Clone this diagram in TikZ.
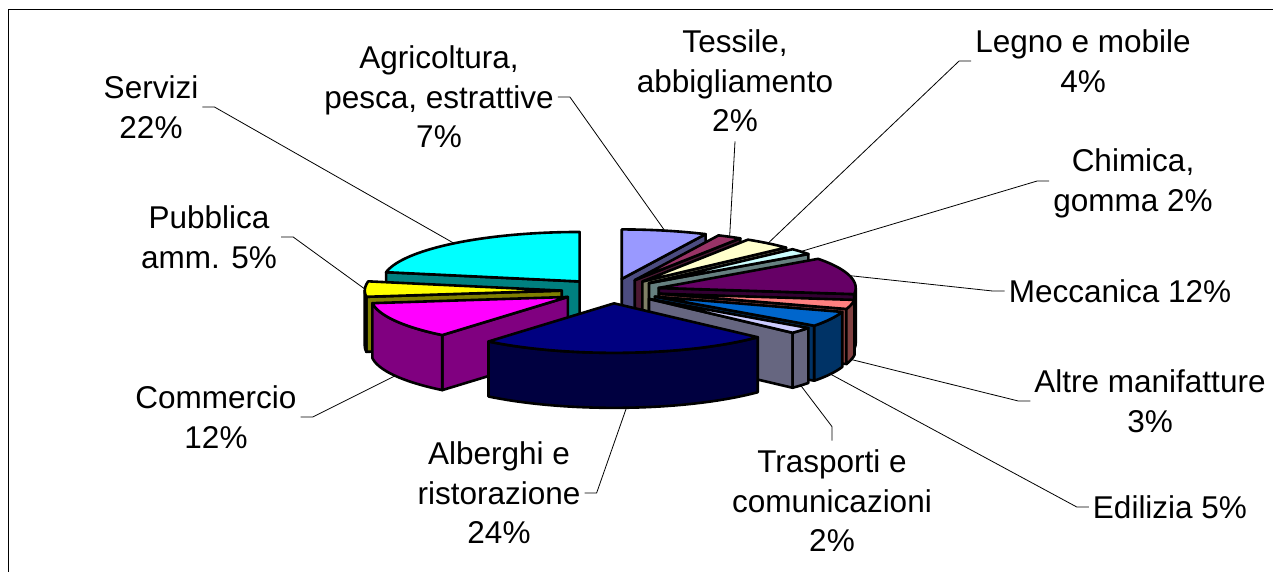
\documentclass[tikz,border=0pt]{standalone}
\usepackage{fontspec}
\setmainfont{Liberation Sans}
\definecolor{cAgr}{HTML}{9999FF}
\definecolor{cTes}{HTML}{993366}
\definecolor{cLeg}{HTML}{FFFFCC}
\definecolor{cChi}{HTML}{CCFFFF}
\definecolor{cMec}{HTML}{660066}
\definecolor{cAlt}{HTML}{FF8080}
\definecolor{cEdi}{HTML}{0066CC}
\definecolor{cTra}{HTML}{CCCCFF}
\definecolor{cAlb}{HTML}{000080}
\definecolor{cCom}{HTML}{FF00FF}
\definecolor{cPub}{HTML}{FFFF00}
\definecolor{cSer}{HTML}{00FFFF}
\tikzset{
 pieface/.style={draw=black, line width=2.6pt, line join=round},
 lbl/.style={font=\fontsize{31.5pt}{39.5pt}\selectfont, align=center, inner sep=4pt},
 leader/.style={draw=black, line width=0.8pt},
 frameline/.style={draw=black, line width=1pt}
}
\newcommand\tstr{\rule{0pt}{28pt}}
\newcommand\bstr{\rule[-5.4pt]{0pt}{5.4pt}}
\newcommand\pieslice[4]{%
 \pgfmathsetmacro\pcA{3.6*#1}%
 \pgfmathsetmacro\pcB{3.6*#2}%
 \pgfmathsetmacro\pcM{(\pcA+\pcB)/2}%
 \pgfmathsetmacro\pcS{max(\pcA,90)}%
 \pgfmathsetmacro\pcT{min(\pcB,270)}%
 \pgfmathtruncatemacro\pcHasSide{\pcT>\pcS+0.01 ? 1 : 0}%
 \pgfmathtruncatemacro\pcHasStart{sin(\pcA)<-0.01 ? 1 : 0}%
 \pgfmathtruncatemacro\pcHasEnd{sin(\pcB)>0.01 ? 1 : 0}%
 \begin{scope}[shift={({0.25*sin(\pcM)},{-0.25*cos(\pcM)})}]
  \ifnum\pcHasStart=1
   \path[pieface, fill=#3!50!black] (0,0,0) -- ({sin(\pcA)},{-cos(\pcA)},0) -- ({sin(\pcA)},{-cos(\pcA)},-1) -- (0,0,-1) -- cycle;
  \fi
  \ifnum\pcHasEnd=1
   \path[pieface, fill=#3!50!black] (0,0,0) -- ({sin(\pcB)},{-cos(\pcB)},0) -- ({sin(\pcB)},{-cos(\pcB)},-1) -- (0,0,-1) -- cycle;
  \fi
  \ifnum\pcHasSide=1
   \path[pieface, fill=#3!50!black] plot[domain=\pcS:\pcT, samples=40] ({sin(\x)},{-cos(\x)},0) -- plot[domain=\pcT:\pcS, samples=40] ({sin(\x)},{-cos(\x)},-1) -- cycle;
  \fi
  \path[pieface, fill=#3] (0,0,0) -- plot[domain=\pcA:\pcB, samples=40] ({sin(\x)},{-cos(\x)},0) -- cycle;
  \coordinate (#4-top) at ({sin(\pcM)},{-cos(\pcM)},0);
  \coordinate (#4-bot) at ({sin(\pcM)},{-cos(\pcM)},-1);
 \end{scope}}
\begin{document}
\begin{tikzpicture}[x=1pt, y=-1pt]
\useasboundingbox (0,0) rectangle (1273,572);
\fill[white] (0,0) rectangle (1273,572);
\draw[frameline] (8,572) -- (8,10) -- (1273,10);
\begin{scope}[shift={(611,291)}]
\begin{scope}[x={(197pt,0pt)}, y={(0pt,-49.5pt)}, z={(0pt,55pt)}]
 \pieslice{0}{7}{cAgr}{agr}
 \pieslice{7}{9}{cTes}{tes}
 \pieslice{78}{100}{cSer}{ser}
 \pieslice{9}{13}{cLeg}{leg}
 \pieslice{13}{15}{cChi}{chi}
 \pieslice{15}{27}{cMec}{mec}
 \pieslice{73}{78}{cPub}{pub}
 \pieslice{27}{30}{cAlt}{alt}
 \pieslice{30}{35}{cEdi}{edi}
 \pieslice{61}{73}{cCom}{com}
 \pieslice{35}{37}{cTra}{tra}
 \pieslice{37}{61}{cAlb}{alb}
\end{scope}
\end{scope}
\node[lbl] (lSer) at (151,107) {\tstr Servizi\\22\%\bstr};
\node[lbl] (lPub) at (209,237) {\tstr Pubblica\\amm. 5\%\bstr};
\node[lbl] (lAgr) at (439,97) {\tstr Agricoltura,\\pesca, estrattive\\7\%\bstr};
\node[lbl] (lTes) at (735,81) {\tstr Tessile,\\abbigliamento\\2\%\bstr};
\node[lbl] (lLeg) at (1083,61) {\tstr Legno e mobile\\4\%\bstr};
\node[lbl] (lChi) at (1133,181) {\tstr Chimica,\\gomma 2\%\bstr};
\node[lbl] (lMec) at (1120,291) {\tstr Meccanica 12\%\bstr};
\node[lbl] (lAlt) at (1150,401) {\tstr Altre manifatture\\3\%\bstr};
\node[lbl] (lEdi) at (1170,507) {\tstr Edilizia 5\%\bstr};
\node[lbl] (lTra) at (832,501) {\tstr Trasporti e\\comunicazioni\\2\%\bstr};
\node[lbl] (lAlb) at (499,493) {\tstr Alberghi e\\ristorazione\\24\%\bstr};
\node[lbl] (lCom) at (216,417) {\tstr Commercio\\12\%\bstr};
\draw[leader] (lSer.east) -- ++(12,0) -- (ser-top);
\draw[leader] (lPub.east) -- ++(12,0) -- (pub-top);
\draw[leader] (lAgr.east) -- ++(12,0) -- (agr-top);
\draw[leader] (lTes.south) -- (tes-top);
\draw[leader] (lLeg.west) -- ++(-12,0) -- (leg-top);
\draw[leader] (lChi.west) -- ++(-12,0) -- (chi-top);
\draw[leader] (lMec.west) -- ++(-12,0) -- (mec-top);
\draw[leader] (lAlt.west) -- ++(-12,0) -- (alt-bot);
\draw[leader] (lEdi.west) -- ++(-12,0) -- (edi-bot);
\draw[leader] (lTra.north) -- ++(0,-14) -- (tra-bot);
\draw[leader] (lAlb.east) -- ++(12,0) -- (alb-bot);
\draw[leader] (lCom.east) -- ++(12,0) -- (com-bot);
\end{tikzpicture}
\end{document}
